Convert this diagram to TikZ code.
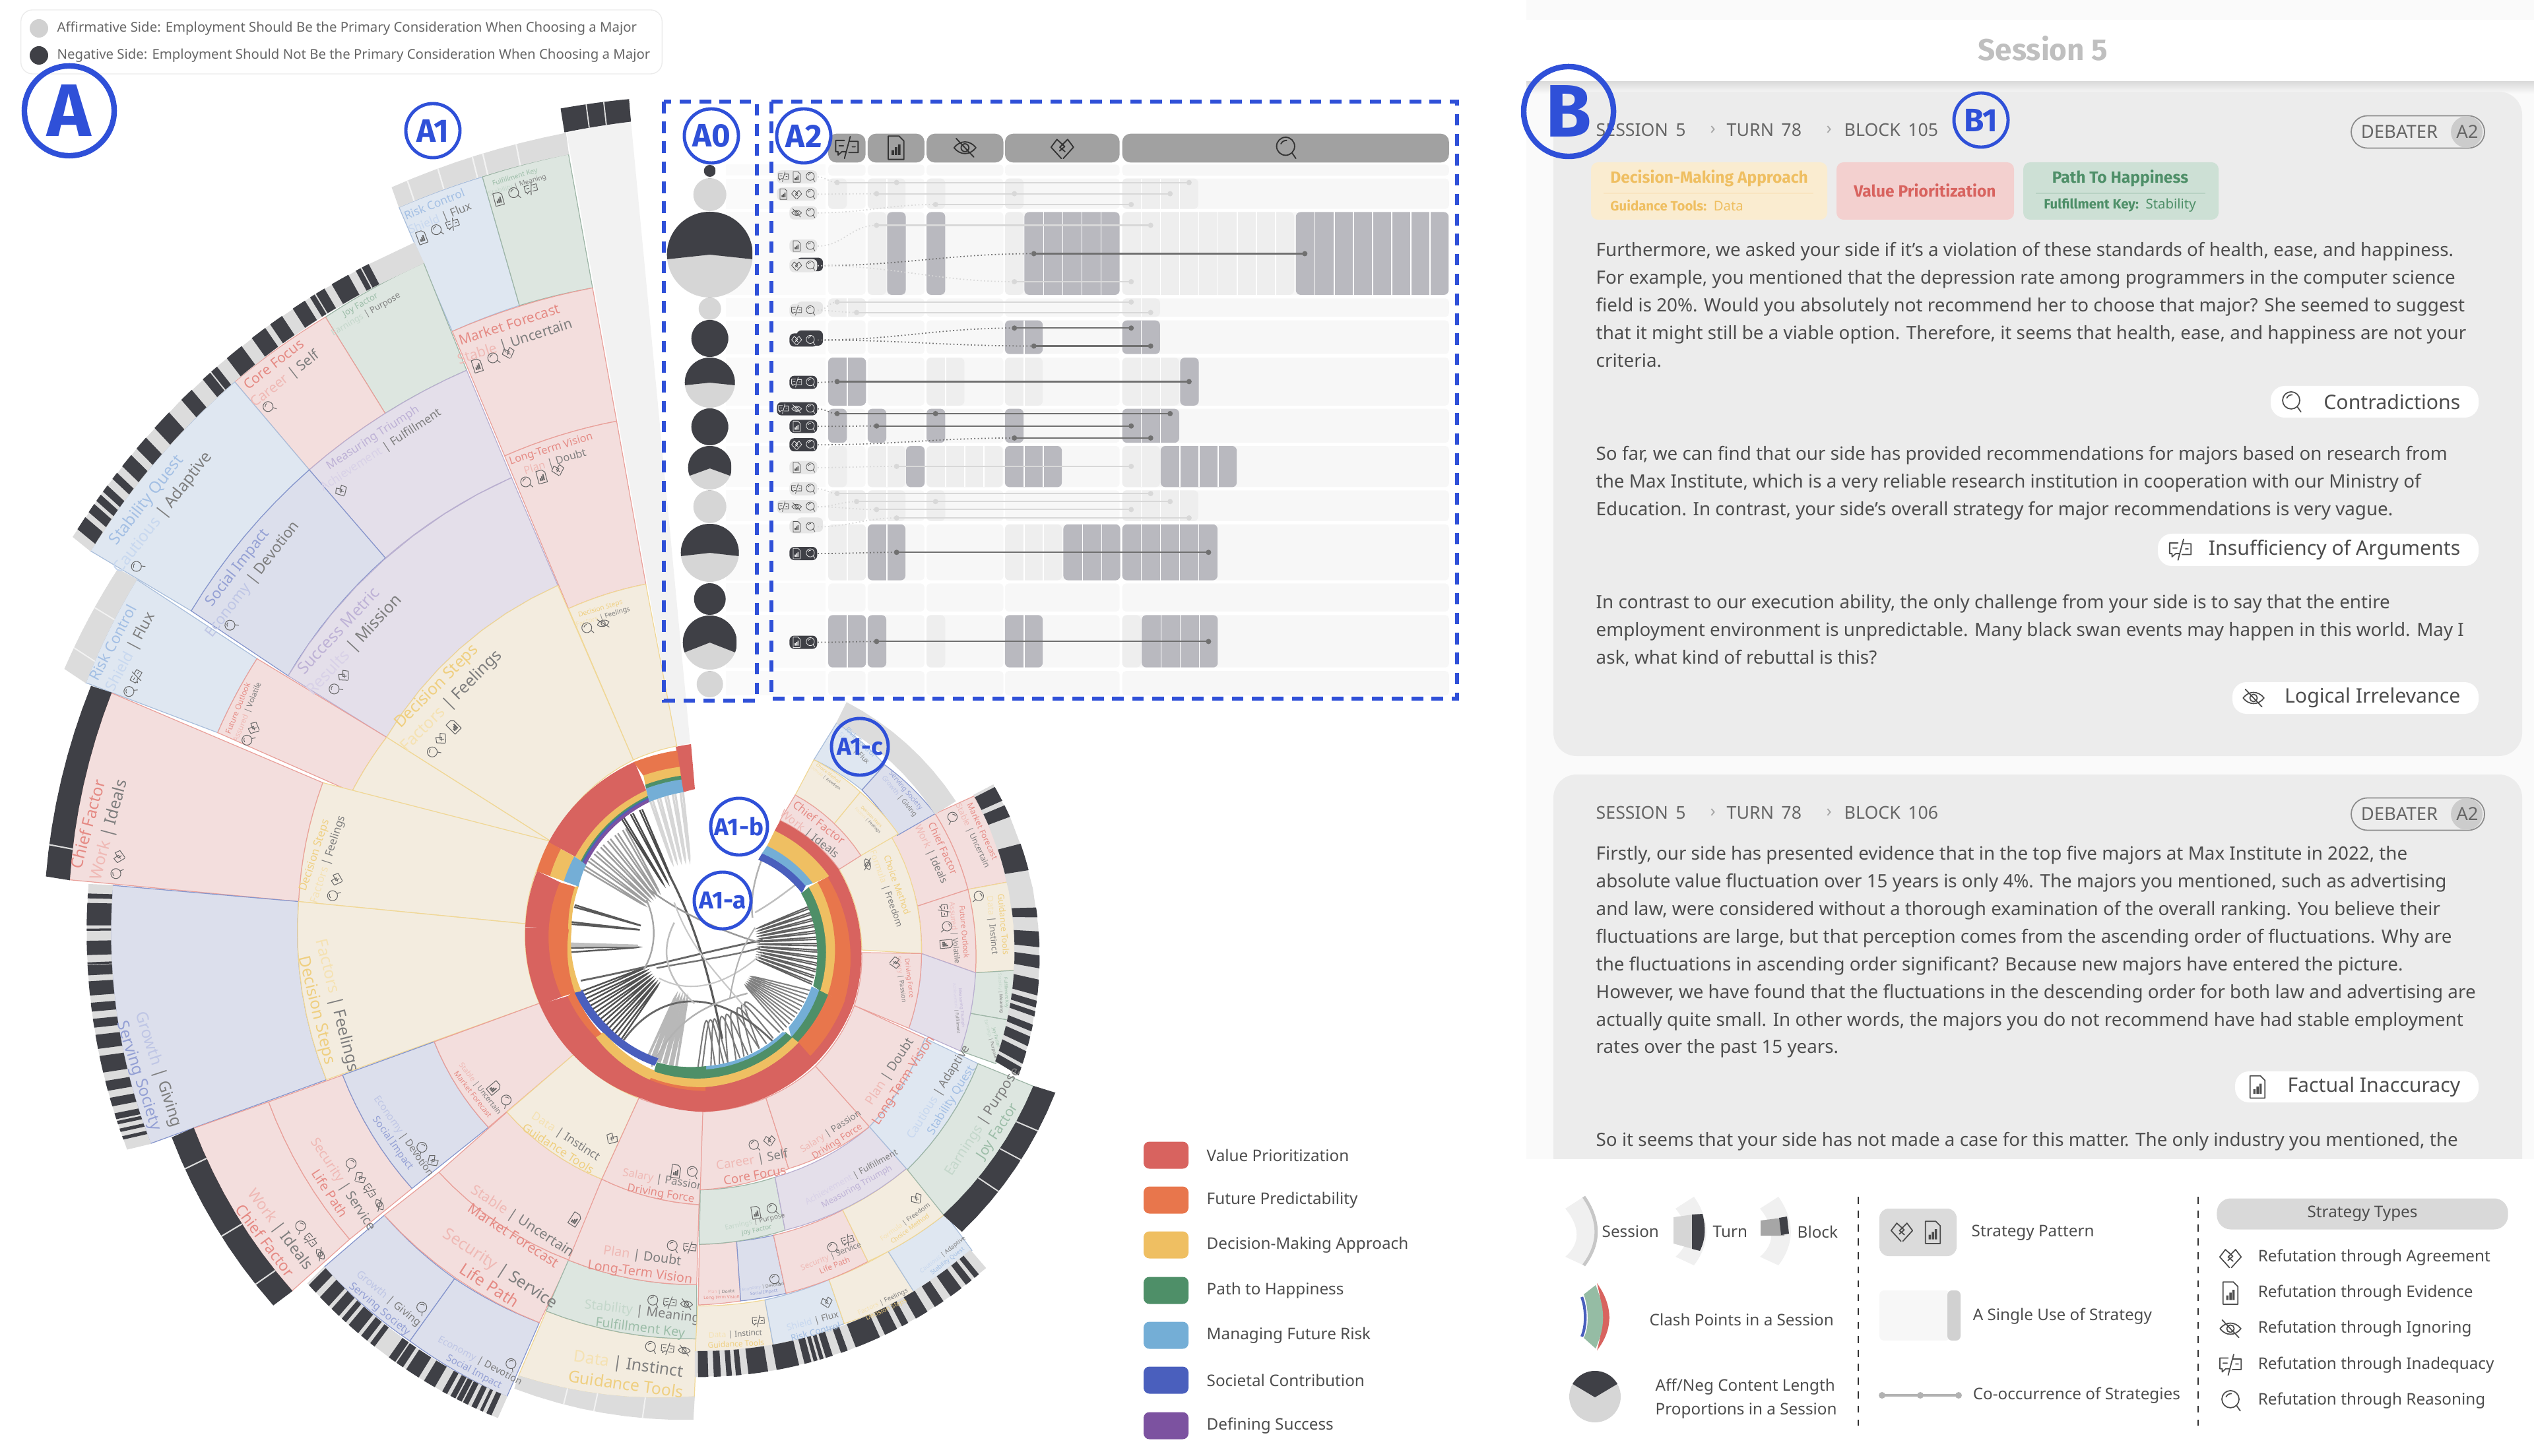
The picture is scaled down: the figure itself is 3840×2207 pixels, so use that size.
\documentclass[tikz,border=0pt]{standalone}
\usepackage{fontspec}
\setmainfont{Noto Sans}
\newfontfamily\heavyfont{Fira Sans}
\usetikzlibrary{positioning}

% cell fills and their borders
\definecolor{fillr}{HTML}{F3DEDD}\definecolor{liner}{HTML}{E9A09A}
\definecolor{fillb}{HTML}{DFE7F1}\definecolor{lineb}{HTML}{A9BEDB}
\definecolor{fillg}{HTML}{DDE6E0}\definecolor{lineg}{HTML}{9DB5A6}
\definecolor{filly}{HTML}{F3ECDF}\definecolor{liney}{HTML}{F0D795}
\definecolor{fillp}{HTML}{E4DFEA}\definecolor{linep}{HTML}{B9AFD0}
\definecolor{filli}{HTML}{DCDFEC}\definecolor{linei}{HTML}{8595CC}
% bars
\definecolor{filld}{HTML}{3F4046}\definecolor{lined}{HTML}{3F4046}
\definecolor{fills}{HTML}{DCDCDC}\definecolor{lines}{HTML}{DCDCDC}
\definecolor{fillw}{HTML}{F2F2F2}\definecolor{linew}{HTML}{F2F2F2}
% clash point rings
\definecolor{fillR}{HTML}{D8635F}\definecolor{lineR}{HTML}{D8635F}
\definecolor{fillO}{HTML}{E8764C}\definecolor{lineO}{HTML}{E8764C}
\definecolor{fillY}{HTML}{EFBF62}\definecolor{lineY}{HTML}{EFBF62}
\definecolor{fillG}{HTML}{4E8F68}\definecolor{lineG}{HTML}{4E8F68}
\definecolor{fillL}{HTML}{74AED6}\definecolor{lineL}{HTML}{74AED6}
\definecolor{fillB}{HTML}{4A5FBD}\definecolor{lineB}{HTML}{4A5FBD}
\definecolor{fillP}{HTML}{7C52A0}\definecolor{lineP}{HTML}{7C52A0}
% label text
\definecolor{namer}{HTML}{E58A84}\definecolor{nameb}{HTML}{A3BFE4}
\definecolor{nameg}{HTML}{9CBDA8}\definecolor{namey}{HTML}{EFCF80}
\definecolor{namep}{HTML}{BEB2D6}\definecolor{namei}{HTML}{94A0D4}
\definecolor{cellword}{HTML}{7E7E7E}
\definecolor{wordgray}{HTML}{666666}
\definecolor{bodygray}{HTML}{4D4D4D}
\definecolor{markblue}{HTML}{2F50D8}
\definecolor{tagl}{HTML}{E6E6E6}\definecolor{tagd}{HTML}{3F4046}
\definecolor{icotagl}{HTML}{555555}\definecolor{icotagd}{HTML}{E8E8E8}
\definecolor{barl}{HTML}{EEEEEE}\definecolor{bard}{HTML}{B9B9BF}
\definecolor{linktagl}{HTML}{D8D8D8}\definecolor{linktagd}{HTML}{707070}
\definecolor{cardgray}{HTML}{ECECEC}

\tikzset{
    icodraw/.style={x=1pt,y=1pt,line width=\icosize*.5pt,line cap=round,line join=round},
    icomag/.pic={\pgftransformresetnontranslations\pgftransformrotate{\icorot}\pgftransformscale{\icosize}
        \draw[icodraw] (0,.6) circle (3.7) (2.6,-2.1) -- (4.2,-4.4) (-1.9,1.6) .. controls (-1.4,2.6) and (-.6,3) .. (.4,3);},
    icodoc/.pic={\pgftransformresetnontranslations\pgftransformrotate{\icorot}\pgftransformscale{\icosize}
        \draw[icodraw] (-3.2,-4.8) -- (3.2,-4.8) -- (3.2,2.8) -- (1.2,4.8) -- (-3.2,4.8) -- cycle;
        \fill[icodraw] (-1.8,-3) rectangle (-.8,-1) (-.5,-3) rectangle (.5,.2) (.8,-3) rectangle (1.8,1.4);},
    icoeye/.pic={\pgftransformresetnontranslations\pgftransformrotate{\icorot}\pgftransformscale{\icosize}
        \draw[icodraw] (-4.5,0) .. controls (-2,3.2) and (2,3.2) .. (4.5,0) .. controls (2,-3.2) and (-2,-3.2) .. (-4.5,0)
            (0,0) circle (1.6) (-3.6,3.8) -- (3.6,-3.8);},
    icoheart/.pic={\pgftransformresetnontranslations\pgftransformrotate{\icorot}\pgftransformscale{\icosize}
        \draw[icodraw] (-.4,-4.4) -- (-4.6,.2) -- (-2.2,3.4) -- (1,.5) -- (-1.1,-1.3)
            (.4,-4.4) -- (4.6,.2) -- (2.2,3.4) -- (-1,.2) -- (1.1,-1.6);},
    icotalk/.pic={\pgftransformresetnontranslations\pgftransformrotate{\icorot}\pgftransformscale{\icosize}
        \draw[icodraw] (-1,3) -- (-4.6,3) -- (-4.6,-1.6) -- (-3.6,-1.6) -- (-3.6,-3) -- (-2,-1.6) -- (-.4,-1.6)
            (1,2.6) -- (4.6,2.6) -- (4.6,-2) -- (.8,-2) (-1,-4.4) -- (1.4,4.6) (-3.2,.8) -- (-1.4,.8) (2.2,.4) -- (3.4,.4);},
    iconone/.pic={},
    markbig/.style={circle,draw=markblue,line width=2.4pt,text=markblue,inner sep=0pt,minimum size=1.36cm,font=\fontsize{32}{34}\selectfont\heavyfont\bfseries},
    marksmall/.style={circle,draw=markblue,line width=1.4pt,text=markblue,inner sep=0pt,minimum size=.82cm,font=\fontsize{14}{15}\selectfont\heavyfont\bfseries},
    marktiny/.style={marksmall,font=\fontsize{10.5}{11}\selectfont\heavyfont\bfseries},
    dashbox/.style={draw=markblue,line width=1.9pt,dash pattern=on 5pt off 3.6pt},
    swatch/.style={rounded corners=2.5pt,inner sep=0pt,minimum width=.68cm,minimum height=.41cm},
    legtext/.style={anchor=west,inner sep=0pt,text=bodygray,font=\fontsize{6.9}{8}\selectfont},
    bodytext/.style={anchor=north west,inner sep=0pt,align=left,text=bodygray,font=\fontsize{7.9}{11.9}\selectfont},
    crumb/.style={anchor=west,inner sep=0pt,text=wordgray,font=\fontsize{7.6}{9}\selectfont},
    pilltext/.style={anchor=east,inner sep=0pt,text=bodygray,font=\fontsize{8.6}{10}\selectfont},
    chip/.style={rounded corners=3pt},
    dotnode/.style={circle,inner sep=0pt,minimum size=.08cm},
}

% polar corners of one sector, from the centre \ccx,\ccy
\newcommand{\setcell}[8]{%
    \pgfmathsetmacro\cra{veclen(#1-\ccx,#2-\ccy)}%
    \pgfmathsetmacro\crb{veclen(#3-\ccx,#4-\ccy)}%
    \pgfmathsetmacro\crc{veclen(#5-\ccx,#6-\ccy)}%
    \pgfmathsetmacro\crd{veclen(#7-\ccx,#8-\ccy)}%
    \pgfmathsetmacro\caa{atan2(#2-\ccy,#1-\ccx)}%
    \pgfmathsetmacro\cda{mod(atan2(#4-\ccy,#3-\ccx)-\caa+540,360)-180}%
    \pgfmathsetmacro\cad{atan2(#8-\ccy,#7-\ccx)}%
    \pgfmathsetmacro\cdd{mod(atan2(#6-\ccy,#5-\ccx)-\cad+540,360)-180}%
}
\newcommand{\drawcell}[3]{%
    \path[fill=fill#1,draw=line#1,line width=.35pt]
        plot[domain=#2:#3,samples=\csam,variable=\t] ({\ccx+(\cra+(\crb-\cra)*\t)*cos(\caa+\cda*\t)},{\ccy+(\cra+(\crb-\cra)*\t)*sin(\caa+\cda*\t)})
        -- plot[domain=#3:#2,samples=\csam,variable=\t] ({\ccx+(\crd+(\crc-\crd)*\t)*cos(\cad+\cdd*\t)},{\ccy+(\crd+(\crc-\crd)*\t)*sin(\cad+\cdd*\t)})
        -- cycle;
}
% name above "sub | word"
\newcommand{\lblN}[7]{%
    \pgfmathsetmacro\lsk{#3*1.28}%
    \node[rotate=#2,inner sep=0pt,align=center,font=\fontsize{#3}{\lsk}\selectfont] at (#1)
        {{\color{name#4}#5}\\{\color{name#4!60!white}#6} {\color{cellword}| #7}};
}
% "sub | word" above name
\newcommand{\lblS}[7]{%
    \pgfmathsetmacro\lsk{#3*1.28}%
    \node[rotate=#2,inner sep=0pt,align=center,font=\fontsize{#3}{\lsk}\selectfont] at (#1)
        {{\color{name#4!60!white}#6} {\color{cellword}| #7}\\{\color{name#4}#5}};
}
\newcommand{\chordloop}[7]{%
    \draw[line width=#7pt,color=black!#6] (#2:#1) .. controls (#4:#5) and (#4+1:#5) .. (#3:#1);
}

\begin{document}
\begin{tikzpicture}[x=0.01cm,y=-0.01cm]
\useasboundingbox (0,0) rectangle (3840,2207);

% Legend of the two sides
\node[draw=black!8,rounded corners=5pt,minimum width=9.71cm,minimum height=.97cm,inner sep=0pt] (sidebox) at (517.5,63.5) {};
\fill[black!18] (59,43) circle (14);
\fill[filld] (59,84) circle (14);
\node[legtext,font=\fontsize{5.8}{7}\selectfont,text=wordgray] (sideaff) at (86,43) {Affirmative Side: Employment Should Be the Primary Consideration When Choosing a Major};
\node[legtext,font=\fontsize{5.8}{7}\selectfont,text=wordgray] (sideneg) at (86,84) {Negative Side: Employment Should Not Be the Primary Consideration When Choosing a Major};

% Sunburst, left part
\begin{scope}[scale=.7015]
\def\ccx{1499.6}\def\ccy{2038.5}\def\csam{9}
\foreach \xa/\ya/\xb/\yb/\xc/\yc/\xd/\yd/\k in {
    1462/1612/1490/1605/1362/262/1225/288/w,
    977/716/1122/660/1042/382/862/448/b,
    1122/660/1280/622/1228/333/1042/382/g,
    1090/985/1332/910/1280/622/977/716/r,
    1228/1315/1395/1262/1332/910/1090/985/r,
    1368/1642/1462/1612/1395/1262/1228/1315/y,
    832/893/1008/800/915/568/703/685/g,
    668/1015/832/893/703/685/507/825/r,
    413/1320/668/1015/507/825/195/1190/b,
    832/1205/1105/1032/1008/800/668/1015/p,
    622/1460/832/1205/668/1015/413/1320/i,
    835/1593/1205/1265/1105/1032/622/1460/p,
    1190/1818/1368/1642/1205/1265/835/1593/y,
    470/1583/555/1423/295/1252/185/1475/b,
    760/1711/835/1593/555/1423/470/1583/r,
    1175/1850/1190/1818/835/1593/760/1711/y,
    1135/1996/1190/1818/697/1691/645/1948/y,
    645/1948/697/1691/240/1497/150/1901/r,
    705/2333/645/1948/243/1913/325/2471/i,
    1165/2168/1135/1996/645/1948/705/2333/y,
    755/2678/580/2381/418/2438/630/2790/r,
    890/2568/740/2323/580/2381/755/2678/r,
    1055/2436/938/2251/740/2323/890/2568/i,
    1240/2278/1165/2168/938/2251/1055/2436/r,
    982/2763/830/2626/700/2738/885/2898/i,
    1165/2858/982/2763/885/2898/1095/3018/i,
    1230/2723/948/2533/830/2626/1165/2858/r,
    1300/2548/1095/2403/948/2533/1230/2723/r,
    1380/2373/1240/2278/1095/2403/1300/2548/y,
    1505/2893/1180/2833/1120/2973/1500/3018/y,
    1505/2776/1228/2723/1180/2833/1505/2893/g,
    1510/2603/1300/2548/1228/2723/1505/2776/r,
    1525/2398/1380/2373/1300/2548/1510/2603/r}{\setcell{\xa}{\ya}{\xb}{\yb}{\xc}{\yc}{\xd}{\yd}\drawcell{\k}{0}{1}}
% plain session bars with their thin turn rules
\setcell{862}{447}{1228}{333}{1222}{288}{847}{405}\drawcell{s}{0}{1}
\foreach \sa in {.09,.27,.47,.53,.72}{\drawcell{w}{\sa}{\sa+.004}}
\setcell{185}{1475}{295}{1252}{255}{1230}{140}{1445}\drawcell{s}{0}{1}
\foreach \sa in {.2,.6}{\drawcell{w}{\sa}{\sa+.004}}
\setcell{1120}{2973}{1500}{3018}{1497}{3067}{1112}{3000}\drawcell{s}{0}{1}
\foreach \sa in {.28,.45,.72}{\drawcell{w}{\sa}{\sa+.003}}
\setcell{1220}{285}{1362}{262}{1358}{215}{1212}{235}\drawcell{d}{0}{1}
\foreach \sa in {.37,.63}{\drawcell{s}{\sa}{\sa+.006}}
\setcell{150}{1901}{240}{1497}{197}{1483}{100}{1893}\drawcell{d}{0}{1}
\foreach \sa in {.16}{\drawcell{s}{\sa}{\sa+.003}}
\setcell{418}{2438}{630}{2790}{590}{2820}{372}{2458}\drawcell{d}{0}{1}
\foreach \sa in {.17,.56,.86}{\drawcell{s}{\sa}{\sa+.003}}
% striped session bars
\setcell{195}{1190}{915}{568}{895}{525}{158}{1160}\drawcell{s}{0}{1}
\foreach \sa/\sb in {.02/.05,.065/.085,.095/.11,.12/.135,.155/.17,.19/.22,.24/.27,.30/.345,.385/.415,.45/.47,.475/.49,.52/.56,.59/.625,.64/.67,.70/.73,.745/.755,.76/.78,.80/.84,.86/.87,.875/.89}{\drawcell{d}{\sa}{\sb}}
\setcell{243}{1913}{325}{2471}{275}{2483}{192}{1911}\drawcell{s}{0}{1}
\foreach \sa/\sb in {.035/.05,.07/.15,.165/.17,.21/.26,.29/.295,.30/.335,.36/.41,.44/.47,.50/.53,.56/.61,.64/.70,.735/.77,.80/.83,.86/.88,.89/.90,.92/.93,.95/.96}{\drawcell{d}{\sa}{\sb}}
\setcell{700}{2738}{1095}{3018}{1075}{3063}{665}{2773}\drawcell{s}{0}{1}
\foreach \sa/\sb in {.01/.05,.08/.13,.15/.19,.21/.23,.25/.30,.32/.35,.37/.39,.47/.50,.51/.54,.56/.62,.65/.70,.74/.76,.78/.80,.81/.83,.84/.86,.88/.90,.92/.93,.95/.97}{\drawcell{d}{\sa}{\sb}}
% labels
\lblN{945,458}{22}{4.9}{b}{Risk Control}{Shield}{Flux}
\lblN{1115,392}{17}{2.9}{g}{Fulfillment Key}{Stability}{Meaning}
\lblN{1107,722}{18}{6}{r}{Market Forecast}{Stable}{Uncertain}
\lblN{1195,985}{17}{4.6}{r}{Long-Term Vision}{Plan}{Doubt}
\lblN{1300,1325}{17}{2.9}{y}{Decision Steps}{Factors}{Feelings}
\lblN{605,805}{38}{6}{r}{Core Focus}{Career}{Self}
\lblN{785,670}{30}{3.7}{g}{Joy Factor}{Earnings}{Purpose}
\lblN{335,1095}{52}{6.9}{b}{Stability Quest}{Cautious}{Adaptive}
\lblN{815,960}{33}{5}{p}{Measuring Triumph}{Achievement}{Fulfillment}
\lblN{530,1240}{52}{6.4}{i}{Social Impact}{Economy}{Devotion}
\lblN{750,1380}{47}{7}{p}{Success Metric}{Results}{Mission}
\lblN{960,1500}{45}{7}{y}{Decision Steps}{Factors}{Feelings}
\lblN{265,1400}{62}{6.4}{b}{Risk Control}{Shield}{Flux}
\lblN{525,1535}{68}{3.3}{r}{Future Outlook}{Assured}{Volatile}
\lblN{215,1788}{75}{7}{r}{Chief Factor}{Work}{Ideals}
\lblN{695,1853}{72}{4.7}{y}{Decision Steps}{Factors}{Feelings}
\lblS{320,2318}{-72}{6.9}{i}{Serving Society}{Growth}{Giving}
\lblS{705,2178}{-76}{7}{y}{Decision Steps}{Factors}{Feelings}
\lblS{590,2668}{-53}{6.6}{r}{Chief Factor}{Work}{Ideals}
\lblS{728,2568}{-57}{5.7}{r}{Life Path}{Security}{Service}
\lblS{860,2463}{-55}{4.3}{i}{Social Impact}{Economy}{Devotion}
\lblS{1030,2358}{-52}{3.2}{r}{Market Forecast}{Stable}{Uncertain}
\lblS{830,2818}{-40}{4.6}{i}{Serving Society}{Growth}{Giving}
\lblS{1030,2953}{-28}{4.2}{i}{Social Impact}{Economy}{Devotion}
\lblS{1070,2758}{-33}{7}{r}{Life Path}{Security}{Service}
\lblS{1120,2653}{-33}{6}{r}{Market Forecast}{Stable}{Uncertain}
\lblS{1215,2468}{-33}{5}{y}{Guidance Tools}{Data}{Instinct}
\lblS{1430,2565}{-10}{4.7}{r}{Driving Force}{Salary}{Passion}
\lblS{1385,2733}{-8}{5.6}{r}{Long-Term Vision}{Plan}{Doubt}
\lblS{1385,2853}{-7}{5.6}{g}{Fulfillment Key}{Stability}{Meaning}
\lblS{1355,2968}{-8}{7}{y}{Guidance Tools}{Data}{Instinct}
% strategy icons in the cells
\def\icosize{.58}
\foreach \n/\x/\y/\r in {
    doc/911/513/20,mag/943/498/20,talk/978/485/20,doc/1077/430/15,mag/1110/418/15,talk/1147/408/15,
    doc/1031/790/18,mag/1065/775/18,heart/1098/762/18,mag/1136/1043/15,doc/1170/1030/15,heart/1205/1015/15,
    mag/1268/1358/15,eye/1303/1347/15,mag/580/880/35,mag/296/1225/50,heart/737/1060/30,mag/498/1352/50,
    mag/723/1490/45,heart/743/1460/45,mag/280/1495/60,talk/295/1462/60,mag/535/1600/65,heart/548/1573/65,
    mag/935/1626/45,heart/953/1596/45,doc/980/1570/45,mag/252/1888/78,heart/257/1851/78,mag/720/1936/72,heart/727/1900/72,
    mag/648/2650/-52,talk/670/2680/-52,eye/692/2710/-52,mag/757/2515/-57,heart/778/2545/-57,talk/798/2573/-57,eye/820/2603/-57,
    mag/910/2480/-55,heart/935/2508/-55,doc/1067/2351/-50,mag/1092/2378/-50,mag/910/2826/-40,mag/1103/2948/-28,
    doc/1242/2635/-33,heart/1322/2460/-33,doc/1460/2531/-8,mag/1495/2533/-8,mag/1452/2693/-5,talk/1490/2696/-5,
    mag/1410/2811/-5,talk/1447/2815/-5,eye/1483/2818/-5,mag/1405/2911/-5,talk/1442/2915/-5,eye/1478/2918/-5}{\def\icorot{\r}\pic[color=wordgray] at (\x,\y) {ico\n};}
\end{scope}

% Sunburst, right part
\begin{scope}[shift={(1000,1000)},scale=.7653]
\def\ccx{68}\def\ccy{562}\def\csam{9}
\foreach \xa/\ya/\xb/\yb/\xc/\yc/\xd/\yd/\k in {
    75/1280/208/1268/225/1360/70/1370/y,
    208/1268/335/1228/365/1315/225/1360/b,
    335/1228/452/1172/505/1255/365/1315/y,
    452/1172/565/1098/618/1170/505/1255/b,
    78/1158/152/1152/160/1270/76/1278/r,
    152/1152/225/1140/250/1255/160/1270/i,
    225/1140/362/1090/412/1192/250/1255/r,
    362/1090/488/1008/565/1098/412/1192/y,
    80/1050/228/1025/248/1130/78/1158/g,
    228/1025/415/925/488/1008/248/1130/p,
    85/895/210/868/255/1008/80/1050/r,
    210/868/308/805/415/925/255/1008/r,
    308/805/385/685/525/750/415/925/r,
    415/925/525/750/630/800/490/1010/b,
    490/1010/630/800/740/845/562/1100/g,
    545/305/610/455/690/440/622/270/r,
    610/455/625/620/706/615/690/440/y,
    625/620/612/700/697/715/706/615/g,
    612/700/595/775/665/800/697/715/g,
    455/350/510/488/610/455/545/305/r,
    510/488/518/582/625/620/610/455/r,
    518/582/493/730/595/775/625/620/p,
    355/415/400/575/518/582/457/348/y,
    400/580/385/685/493/730/518/582/r,
    305/198/400/258/445/208/350/125/b,
    400/258/470/348/545/305/445/208/i,
    268/268/345/325/397/262/305/198/y,
    345/325/398/388/472/345/397/262/y,
    238/318/355/415/398/388/268/268/r,
    350/125/545/305/585/280/370/85/s}{\setcell{\xa}{\ya}{\xb}{\yb}{\xc}{\yc}{\xd}{\yd}\drawcell{\k}{0}{1}}
\setcell{562}{1100}{740}{845}{782}{858}{598}{1132}\drawcell{d}{0}{1}
\foreach \sa in {.32,.55,.75}{\drawcell{s}{\sa}{\sa+.003}}
\setcell{70}{1370}{615}{1170}{645}{1205}{70}{1420}\drawcell{s}{0}{1}
\foreach \sa/\sb in {.01/.04,.06/.08,.10/.115,.13/.145,.17/.23,.26/.33,.35/.37,.38/.39,.40/.41,.42/.44,.47/.49,.52/.60,.62/.66,.68/.70,.73/.77,.80/.83,.86/.90,.92/.94,.955/.97}{\drawcell{d}{\sa}{\sb}}
\setcell{622}{268}{665}{795}{710}{822}{660}{248}\drawcell{s}{0}{1}
\foreach \sa/\sb in {.01/.06,.08/.12,.22/.31,.44/.47,.52/.57,.60/.64,.68/.73,.75/.77,.785/.80,.83/.85,.87/.90,.92/.96,.975/1}{\drawcell{d}{\sa}{\sb}}
\lblS{185,1005}{10}{5.3}{r}{Core Focus}{Career}{Self}
\lblS{345,945}{33}{4}{r}{Driving Force}{Salary}{Passion}
\lblS{470,825}{57}{5.5}{r}{Long-Term Vision}{Plan}{Doubt}
\lblS{565,865}{58}{5}{b}{Stability Quest}{Cautious}{Adaptive}
\lblS{655,925}{57}{6}{g}{Joy Factor}{Earnings}{Purpose}
\lblS{385,1035}{29}{3.7}{p}{Measuring Triumph}{Achievement}{Fulfillment}
\lblS{190,1122}{12}{2.9}{g}{Joy Factor}{Earnings}{Purpose}
\lblS{342,1190}{22}{3.4}{r}{Life Path}{Security}{Service}
\lblS{490,1120}{36}{2.8}{y}{Choice Method}{Formula}{Freedom}
\lblS{150,1345}{3}{3.4}{y}{Guidance Tools}{Data}{Instinct}
\lblS{305,1320}{15}{3.9}{b}{Risk Control}{Shield}{Flux}
\lblS{445,1280}{25}{2.8}{y}{Decision Steps}{Factors}{Feelings}
\lblS{565,1185}{38}{2.6}{b}{Stability Quest}{Cautious}{Adaptive}
\lblS{122,1258}{2}{1.9}{r}{Long-Term Vision}{Plan}{Doubt}
\lblS{205,1248}{8}{1.9}{i}{Social Impact}{Economy}{Devotion}
\lblN{628,345}{-65}{3.5}{r}{Market Forecast}{Stable}{Uncertain}
\lblN{668,525}{-85}{3.7}{y}{Guidance Tools}{Data}{Instinct}
\lblN{548,380}{-65}{4.3}{r}{Chief Factor}{Work}{Ideals}
\lblN{592,540}{-85}{3.2}{r}{Future Outlook}{Assured}{Volatile}
\lblN{458,450}{-70}{3.8}{y}{Choice Method}{Formula}{Freedom}
\lblN{485,632}{-83}{2.7}{r}{Driving Force}{Salary}{Passion}
\lblN{680,660}{-87}{1.9}{g}{Fulfillment Key}{Stability}{Meaning}
\lblN{660,750}{-75}{1.9}{g}{Joy Factor}{Earnings}{Purpose}
\lblN{592,690}{-85}{1.8}{p}{Measuring Triumph}{Achievement}{Fulfillment}
\lblN{390,170}{-45}{3}{b}{Risk Control}{Shield}{Flux}
\lblN{480,265}{-50}{2.9}{i}{Serving Society}{Growth}{Giving}
\lblN{330,230}{-38}{1.8}{y}{Choice Method}{Formula}{Freedom}
\lblN{415,315}{-45}{1.8}{y}{Decision Steps}{Factors}{Feelings}
\lblN{305,335}{-38}{4.8}{r}{Chief Factor}{Work}{Ideals}
\def\icosize{.55}
\foreach \n/\x/\y/\r in {
    mag/186/962/8,heart/217/952/8,doc/190/1095/10,mag/222/1088/10,mag/342/1165/20,talk/372/1150/20,
    heart/508/1067/35,mag/227/1228/8,heart/330/1272/15,talk/195/1310/3,mag/578/312/-65,mag/630/468/-85,
    talk/562/497/-85,mag/567/528/-85,doc/567/563/-85,eye/411/405/-70,heart/466/600/-83}{\def\icorot{\r}\pic[color=wordgray] at (\x,\y) {ico\n};}
\end{scope}

% Chords inside the rings, then the rings
\begin{scope}[shift={(750,1100)},scale=.3827]
\begin{scope}[shift={(787,863)}]
\foreach \a in {-107,-104,...,-95}{\chordloop{600}{\a}{\a+1}{\a+3}{250}{16}{.9}}
\foreach \a in {-120,-116,-112}{\chordloop{570}{\a}{\a+1}{\a+5}{171}{70}{.7}}
\foreach \a in {-146,-142,...,-122}{\chordloop{530}{\a}{\a+1.5}{\a*.5-66}{157}{38}{.7}}
\foreach \a in {-162,-170}{\chordloop{495}{\a}{\a-1}{-160}{130}{65}{.7}}
\chordloop{495}{178}{176}{175}{130}{65}{.7}
\chordloop{495}{180}{179}{175}{130}{25}{1}
\foreach \a in {157,153,...,129}{\chordloop{495}{\a}{\a-2}{\a*.6+56}{128}{68}{.7}}
\foreach \a in {112,109,...,100}{\chordloop{490}{\a}{\a-2}{\a-6}{140}{28}{1.1}}
\foreach \a/\b/\c in {88/80/78,86/76/75,82/74/72,78/68/66,74/64/62,70/58/58,66/54/52,62/50/48,58/46/46}{\chordloop{490}{\a}{\b}{\c}{250}{52}{.6}}
\foreach \a in {-18,-15,...,18}{\chordloop{495}{\a}{\a+1}{\a*.6}{190}{62}{.6}}
\foreach \a in {22,26,...,42}{\chordloop{495}{\a}{\a+2}{35}{190}{50}{.6}}
\end{scope}
\draw[line width=.9pt,black!65] (690,590) .. controls (800,800) and (850,1000) .. (900,1240);
\draw[line width=.8pt,black!60] (340,1010) .. controls (600,960) and (850,890) .. (1060,850);
\draw[line width=.7pt,black!40] (600,640) .. controls (750,760) and (950,830) .. (1050,860);
\draw[line width=.7pt,black!55] (640,960) .. controls (800,930) and (950,910) .. (1050,880);
\draw[line width=.8pt,black!60] (510,1245) .. controls (650,1050) and (880,1030) .. (1100,1250);
\draw[line width=.7pt,black!30] (620,1350) .. controls (720,1150) and (850,1100) .. (1000,1060);
\draw[line width=.7pt,black!30] (1020,760) .. controls (1010,680) and (1030,600) .. (1060,520);
\draw[line width=.7pt,black!25] (1030,740) .. controls (1100,700) and (1150,660) .. (1190,630);
\draw[line width=.7pt,black!35] (600,690) .. controls (640,780) and (640,880) .. (590,965);
\draw[line width=.7pt,black!25] (710,780) .. controls (650,900) and (680,1000) .. (790,1100);
\draw[line width=.6pt,black!22] (650,1000) .. controls (800,1080) and (950,1000) .. (1060,900);
\draw[line width=.6pt,black!22] (710,700) .. controls (780,900) and (900,1000) .. (1000,1130);
\draw[line width=.6pt,black!30] (930,1080) .. controls (960,900) and (1000,850) .. (1030,800);
\def\ccx{787}\def\ccy{863}\def\csam{15}
\foreach \xa/\ya/\xb/\yb/\xc/\yc/\xd/\yd/\k in {
    1045/530/1215/660/1230/632/1060/505/B,
    1060/505/1230/632/1260/622/1080/475/L,
    1080/475/1260/622/1325/595/1110/415/Y,
    1110/415/1325/595/1360/570/1130/378/R,
    1215/665/1262/1030/1290/1050/1245/640/G,
    1245/640/1290/1050/1320/1065/1280/620/Y,
    1280/620/1320/1065/1385/1095/1320/600/O,
    1320/600/1385/1095/1420/1100/1360/570/R,
    1165/1195/1255/1035/1285/1050/1175/1235/L,
    1175/1235/1285/1050/1320/1068/1200/1255/G,
    1200/1255/1320/1068/1385/1095/1245/1315/O,
    1245/1315/1385/1095/1420/1100/1270/1335/R,
    832/1430/1200/1255/1270/1335/830/1528/R,
    832/1395/1175/1235/1200/1255/832/1430/Y,
    835/1360/1150/1215/1175/1235/832/1395/G,
    835/1350/1140/1215/1150/1218/835/1360/L,
    612/1400/832/1445/830/1528/590/1478/R,
    615/1392/832/1430/832/1445/612/1400/O,
    632/1368/832/1395/832/1430/615/1392/Y,
    642/1335/835/1350/832/1395/632/1368/G,
    400/1232/612/1400/590/1478/320/1312/R,
    432/1215/632/1368/612/1400/400/1232/Y,
    445/1190/645/1318/632/1345/432/1215/B,
    290/1072/400/1232/320/1312/180/1105/R,
    315/1052/420/1220/400/1232/290/1072/O,
    345/1048/445/1190/430/1215/315/1052/B,
    215/800/265/1072/180/1105/122/800/R,
    295/805/318/1055/265/1072/215/800/O,
    302/805/340/1050/318/1055/295/805/Y,
    215/800/258/622/168/578/122/795/R,
    292/805/318/640/258/622/215/800/O,
    302/805/330/636/318/640/292/805/Y,
    220/595/262/490/215/460/168/575/O,
    275/615/315/520/262/490/220/595/Y,
    330/635/360/548/315/520/275/615/L,
    320/518/598/258/552/145/215/460/R,
    342/535/605/280/598/258/320/518/Y,
    348/538/607/287/605/280/342/535/G,
    353/542/609/292/607/287/348/538/B,
    360/548/612/300/609/292/353/542/P,
    745/262/790/250/775/75/718/85/R,
    590/198/730/165/720/100/552/145/O,
    597/235/735/200/730/165/590/198/Y,
    600/250/737/215/735/200/597/235/G,
    612/300/745/262/737/215/600/250/L}{\setcell{\xa}{\ya}{\xb}{\yb}{\xc}{\yc}{\xd}{\yd}\drawcell{\k}{0}{1}}
\end{scope}

% Strategy matrix A2
\begin{scope}[shift={(980,130)},xscale=.7972,yscale=.606]
\foreach \ya/\yb in {197/225,232/308,316/523,532/578,587/671,680/800,808/893,901/1004,1012/1089,1097/1237,1245/1315,1324/1455,1464/1525}{
    \fill[black!2] (150,\ya) rectangle (340,\yb);
    \foreach \xa/\xb in {345/416,420/528,532/678,681/899,904/1525}{
        \fill[black!3,rounded corners=1.5pt] (\xa,\ya) rectangle (\xb,\yb);
    }
}
\foreach \xa/\xb/\n in {345/416/talk,420/528/doc,532/678/eye,681/899/heart,904/1525/mag}{
    \fill[black!37,rounded corners=3.5pt] (\xa,120) rectangle (\xb,192);
    \def\icosize{1.05}\def\icorot{0}
    \pic[color=black!80] at ({(\xa+\xb)/2},155) {ico\n};
}
% bars, one white rule per use of a strategy
\foreach \xa/\n/\ya/\yb/\k in {
    345/1/232/308/l,420/2/232/308/l,532/1/232/308/l,681/1/232/308/l,904/4/232/308/l,
    420/1/316/523/l,457/1/316/523/d,532/1/316/523/d,681/1/316/523/l,718/5/316/523/d,904/9/316/523/l,1234/8/316/523/d,
    345/2/532/578/l,904/2/532/578/l,
    681/2/587/671/d,904/2/587/671/d,
    345/2/680/800/d,532/2/680/800/l,681/2/680/800/l,904/3/680/800/l,1014/1/680/800/d,
    345/1/808/893/d,420/1/808/893/d,532/1/808/893/d,681/1/808/893/d,904/3/808/893/d,
    345/1/901/1004/l,420/2/901/1004/l,493/1/901/1004/d,532/4/901/1004/l,681/3/901/1004/d,904/2/901/1004/l,977/4/901/1004/d,
    345/2/1012/1089/l,420/2/1012/1089/l,532/1/1012/1089/l,904/4/1012/1089/l,
    345/2/1097/1237/l,420/2/1097/1237/d,681/3/1097/1237/l,792/3/1097/1237/d,904/5/1097/1237/d,
    345/2/1324/1455/d,420/1/1324/1455/d,532/1/1324/1455/l,681/2/1324/1455/d,904/1/1324/1455/l,941/4/1324/1455/d}{
    \fill[color=bar\k,rounded corners=2pt] (\xa,\ya) rectangle ({\xa+36.4*\n-1},\yb);
    \ifnum\n>1
        \foreach \i in {2,...,\n}{\draw[white,line width=.4pt] ({\xa+36.4*(\i-1)},\ya) -- ({\xa+36.4*(\i-1)},\yb);}
    \fi
}
% stacked tags show a second card behind
\fill[filld,rounded corners=2pt] (285,430) rectangle (335,464);
\fill[filld,rounded corners=2pt] (285,612) rectangle (335,650);
\fill[tagl,rounded corners=2pt] (285,540) rectangle (335,572);
\fill[tagl,rounded corners=2pt] (285,1080) rectangle (335,1116);
% strategy pattern tags
\def\icosize{.47}\def\icorot{0}
\foreach \id/\ym/\tagw/\k/\ia/\ib/\ic in {
    1/228/.61/l/talk/doc/mag,2/271/.61/l/doc/heart/mag,3/318/.42/l/none/eye/mag,4/401/.42/l/none/doc/mag,
    5/450/.42/l/none/heart/mag,6/562/.42/l/none/talk/mag,7/636/.42/d/none/heart/mag,8/742/.42/d/none/talk/mag,
    9/808/.61/d/talk/eye/mag,10/852/.42/d/none/doc/mag,11/898/.42/d/none/heart/mag,12/955/.42/l/none/doc/mag,
    13/1008/.42/l/none/talk/mag,14/1053/.61/l/talk/eye/mag,15/1103/.42/l/none/doc/mag,16/1170/.42/d/none/doc/mag,
    17/1392/.42/d/none/doc/mag}{
    \node[fill=tag\k,rounded corners=2pt,inner sep=0pt,anchor=east,minimum width=\tagw cm,minimum height=.2cm] (tag\id) at (325,\ym) {};
    \pic[color=icotag\k] at (260,\ym) {ico\ia};
    \pic[color=icotag\k] at (285,\ym) {ico\ib};
    \pic[color=icotag\k] at (311,\ym) {ico\ic};
}
% co-occurrence lines
\foreach \id/\y/\xs/\xe/\k/\tg in {
    1/242/362/1031/l/1,2/270/437/995/l/2,3/297/549/921/l/3,4/349/437/958/l/4,5/420/736/1251/d/5,6/490/699/921/l/5,
    7/541/362/921/l/6,8/567/399/958/l/6,9/606/699/921/d/7,10/651/736/958/d/7,11/740/362/1031/d/8,
    12/820/362/995/d/9,13/851/437/921/d/10,14/881/699/958/d/11,15/952/475/921/l/12,
    16/1020/362/958/l/13,17/1040/399/995/l/14,18/1060/437/921/l/14,19/1081/475/1031/l/15,
    20/1167/475/1068/d/16,21/1390/437/1068/d/17}{
    \coordinate (ls\id) at (\xs,\y);
    \coordinate (le\id) at (\xe,\y);
    \draw[color=linktag\k,line width=.6pt] (ls\id) -- (le\id);
    \draw[color=linktag\k,line width=.5pt,densely dotted] (tag\tg.east) to[out=0,in=180] (ls\id);
    \node[dotnode,fill=linktag\k] (ds\id) at (ls\id) {};
    \node[dotnode,fill=linktag\k] (de\id) at (le\id) {};
}
\foreach \x/\y/\k in {475/242/l,699/270/l,549/820/d,549/1040/l}{\node[dotnode,fill=linktag\k] at (\x,\y) {};}
\end{scope}

% Aff/Neg circles A0
\foreach \cy/\r/\pk/\ee in {259/9/9/9,295/25/-25/-25,386/65/0/7,468/17/-17/-17,513/28/28/28,580/38/0/4,647/28/28/28,709/33/1/13,
    768/25/-25/-25,838/44/0/5,908/24/24/24,974/41/0/16,1037/20/-20/-20}{
    \fill[black!16] (1075.7,\cy) circle (\r);
    \begin{scope}
        \clip (1075.7,\cy) circle (\r);
        \fill[filld] (1075.7-\r,\cy-\r) -- (1075.7+\r,\cy-\r) -- (1075.7+\r,\cy+\ee) -- (1075.7,\cy+\pk) -- (1075.7-\r,\cy+\ee) -- cycle;
    \end{scope}
}
\draw[dashbox] (1006,154) rectangle (1147,1062);
\draw[dashbox] (1169,154) rectangle (2208,1059);

% Colour legend
\foreach \y/\k/\t in {1751/R/Value Prioritization,1819/O/Future Predictability,1887/Y/Decision-Making Approach,1956/G/Path to Happiness,2024/L/Managing Future Risk,2092/B/Societal Contribution,2161/P/Defining Success}{
    \node[swatch,fill=fill\k] (sw\k) at (1767,\y) {};
    \node[legtext] (lg\k) at (1828,\y) {\t};
}

% Panel B
\fill[black!2] (2313,0) rectangle (3840,1757);
\shade[top color=black!15,bottom color=black!2] (2313,123) rectangle (3840,142);
\fill[white] (2313,30) rectangle (3840,123);
\node[text=black!25,font=\fontsize{13}{15}\selectfont\heavyfont\bfseries] (sesstitle) at (3096,73) {Session 5};
\fill[cardgray,rounded corners=10pt] (2354,139) rectangle (3822,1146);
\fill[cardgray,rounded corners=10pt] (2354,1174) rectangle (3822,1790);
\fill[white] (2300,1757) rectangle (3840,1800);
\foreach \y/\b in {197/105,1232/106}{
    \node[crumb] at (2418,\y) {SESSION\, 5};
    \node[crumb,text=black!35] at (2591,\y) {›};
    \node[crumb] at (2616,\y) {TURN\, 78};
    \node[crumb,text=black!35] at (2767,\y) {›};
    \node[crumb] at (2794,\y) {BLOCK\, \b};
}
\foreach \y in {200,1234}{
    \node[draw=black!45,rounded corners=7pt,minimum width=2.02cm,minimum height=.49cm,inner sep=0pt,line width=.5pt] at (3664,\y) {};
    \fill[black!20] (3738,\y) circle (24);
    \node[inner sep=0pt,text=wordgray,font=\fontsize{7.8}{9}\selectfont] at (3636,\y) {DEBATER};
    \node[inner sep=0pt,text=wordgray,font=\fontsize{7.8}{9}\selectfont] at (3739,\y) {A2};
}
% chips
\fill[color=fillY!30,chip] (2411,246) rectangle (2769,333);
\fill[color=fillR!30,chip] (2783,246) rectangle (3052,333);
\fill[color=fillG!28,chip] (3066,246) rectangle (3362,333);
\node[text=fillY,font=\fontsize{7}{8}\selectfont\heavyfont\bfseries] at (2590,270) {Decision-Making Approach};
\draw[fillY!40,line width=.4pt] (2430,293) -- (2748,293);
\node[text=fillY,font=\fontsize{5.8}{7}\selectfont,anchor=west] at (2428,311) {{\heavyfont\bfseries Guidance Tools:}\ \ Data};
\node[text=fillR,font=\fontsize{7}{8}\selectfont\heavyfont\bfseries] at (2917,289) {Value Prioritization};
\node[text=fillG,font=\fontsize{7}{8}\selectfont\heavyfont\bfseries] at (3213,270) {Path To Happiness};
\draw[fillG!40,line width=.4pt] (3085,293) -- (3342,293);
\node[text=fillG,font=\fontsize{5.8}{7}\selectfont,anchor=west] at (3085,311) {{\heavyfont\bfseries Fulfillment Key:}\ \ Stability};
% paragraphs
\node[bodytext] (para1) at (2418,367) {Furthermore, we asked your side if it's a violation of these standards of health, ease, and happiness.\\For example, you mentioned that the depression rate among programmers in the computer science\\field is 20\%. Would you absolutely not recommend her to choose that major? She seemed to suggest\\that it might still be a viable option. Therefore, it seems that health, ease, and happiness are not your\\criteria.};
\node[bodytext] (para2) at (2418,676) {So far, we can find that our side has provided recommendations for majors based on research from\\the Max Institute, which is a very reliable research institution in cooperation with our Ministry of\\Education. In contrast, your side's overall strategy for major recommendations is very vague.};
\node[bodytext] (para3) at (2418,901) {In contrast to our execution ability, the only challenge from your side is to say that the entire\\employment environment is unpredictable. Many black swan events may happen in this world. May I\\ask, what kind of rebuttal is this?};
\node[bodytext] (para4) at (2418,1282) {Firstly, our side has presented evidence that in the top five majors at Max Institute in 2022, the\\absolute value fluctuation over 15 years is only 4\%. The majors you mentioned, such as advertising\\and law, were considered without a thorough examination of the overall ranking. You believe their\\fluctuations are large, but that perception comes from the ascending order of fluctuations. Why are\\the fluctuations in ascending order significant? Because new majors have entered the picture.\\However, we have found that the fluctuations in the descending order for both law and advertising are\\actually quite small. In other words, the majors you do not recommend have had stable employment\\rates over the past 15 years.};
\node[bodytext] (para5) at (2418,1716) {So it seems that your side has not made a case for this matter. The only industry you mentioned, the};
% refutation pills
\def\icosize{1}\def\icorot{0}
\foreach \xl/\yt/\yb/\n/\ix/\t in {3441/585/633/mag/3472/Contradictions,3270/809/858/talk/3304/Insufficiency of Arguments,3383/1034/1082/eye/3415/Logical Irrelevance,3387/1624/1671/doc/3421/Factual Inaccuracy}{
    \fill[white,rounded corners=6pt] (\xl,\yt) rectangle (3756,\yb);
    \pic[color=bodygray] at (\ix,{(\yt+\yb)/2}) {ico\n};
    \node[pilltext] at (3729,{(\yt+\yb)/2}) {\t};
}

% Bottom legend, glyphs
\foreach \dx in {0,167,295}{
    \fill[black!6] (2372+\dx,1832) .. controls (2395+\dx,1860) and (2395+\dx,1885) .. (2372+\dx,1905) -- (2400+\dx,1918) .. controls (2425+\dx,1885) and (2425+\dx,1850) .. (2400+\dx,1814) -- cycle;
}
\draw[black!22,line width=1.4pt] (2400,1814) .. controls (2425,1850) and (2425,1885) .. (2400,1918);
\fill[black!16] (2536,1845) -- (2572,1840) .. controls (2578,1860) and (2578,1878) .. (2572,1895) -- (2536,1885) -- cycle;
\fill[filld] (2564,1841) -- (2580,1840) .. controls (2585,1860) and (2585,1878) .. (2576,1896) -- (2564,1893) -- cycle;
\fill[black!35] (2668,1850) -- (2700,1846) -- (2704,1873) -- (2668,1873) -- cycle;
\fill[filld] (2696,1846) -- (2708,1844) -- (2711,1870) -- (2699,1872) -- cycle;
\node[legtext] (lgsess) at (2427,1867) {Session};
\node[legtext] (lgturn) at (2595,1867) {Turn};
\node[legtext] (lgblock) at (2723,1867) {Block};
% clash crescent
\fill[fillR] (2420,1945) .. controls (2445,1980) and (2445,2015) .. (2420,2047) .. controls (2430,2010) and (2430,1985) .. (2420,1945);
\fill[fillG!60!white] (2418,1948) .. controls (2433,1985) and (2433,2010) .. (2418,2044) -- (2400,2028) .. controls (2408,2012) and (2408,1985) .. (2400,1962) -- cycle;
\draw[fillB,line width=1.2pt] (2397,1966) .. controls (2404,1985) and (2404,2010) .. (2397,2026);
\node[legtext] (lgclash) at (2499,2000) {Clash Points in a Session};
% aff/neg circle
\fill[black!16] (2417,2117) circle (39);
\begin{scope}
    \clip (2417,2117) circle (39);
    \fill[filld] (2370,2070) -- (2464,2070) -- (2464,2090) -- (2417,2118) -- (2370,2090) -- cycle;
\end{scope}
\node[legtext,align=left,font=\fontsize{6.9}{10.1}\selectfont] (lgaff) at (2508,2120) {Aff/Neg Content Length\\Proportions in a Session};
\draw[black!80,line width=.7pt,dashed] (2816,1814) -- (2816,2161);
\draw[black!80,line width=.7pt,dashed] (3331,1814) -- (3331,2161);
% pattern tile
\fill[black!14,rounded corners=4pt] (2848,1832) rectangle (2965,1904);
\pic[color=bodygray] at (2882,1866) {icoheart};
\pic[color=bodygray] at (2929,1868) {icodoc};
\node[legtext] (lgpat) at (2987,1869) {Strategy Pattern};
\fill[black!3,rounded corners=2pt] (2848,1956) rectangle (2955,2032);
\fill[black!18,rounded corners=2pt] (2951,1956) rectangle (2971,2032);
\node[legtext] (lgsingle) at (2989,1995) {A Single Use of Strategy};
\coordinate (coa) at (2852,2115);
\coordinate (cob) at (2968,2115);
\draw[black!30,line width=.9pt] (coa) -- (cob);
\foreach \x in {2852,2910,2968}{\fill[black!30] (\x,2115) circle (5);}
\node[legtext] (lgco) at (2989,2115) {Co-occurrence of Strategies};
\node[fill=black!15,rounded corners=6pt,minimum width=4.41cm,minimum height=.47cm,inner sep=0pt,text=bodygray,font=\fontsize{6.9}{8}\selectfont] (lgtypes) at (3580,1840) {Strategy Types};
\foreach \y/\n/\t in {1906/heart/Agreement,1960/doc/Evidence,2014/eye/Ignoring,2069/talk/Inadequacy,2123/mag/Reasoning}{
    \pic[color=bodygray] at (3380,\y) {ico\n};
    \node[legtext] at (3421,\y) {Refutation through \t};
}

% Circled view labels
\node[markbig] (markA) at (105,168) {A};
\node[markbig] (markB) at (2377,169) {B};
\node[marksmall] (markAone) at (656,198) {A1};
\node[marksmall] (markAzero) at (1078,206) {A0};
\node[marksmall] (markAtwo) at (1218,206) {A2};
\node[marktiny,minimum size=.86cm] (markAa) at (1095,1365) {A1-a};
\node[marktiny,minimum size=.86cm] (markAb) at (1120,1253) {A1-b};
\node[marktiny,minimum size=.86cm] (markAc) at (1303,1132) {A1-c};
\node[marksmall] (markBone) at (3002,182) {B1};

\end{tikzpicture}
\end{document}
